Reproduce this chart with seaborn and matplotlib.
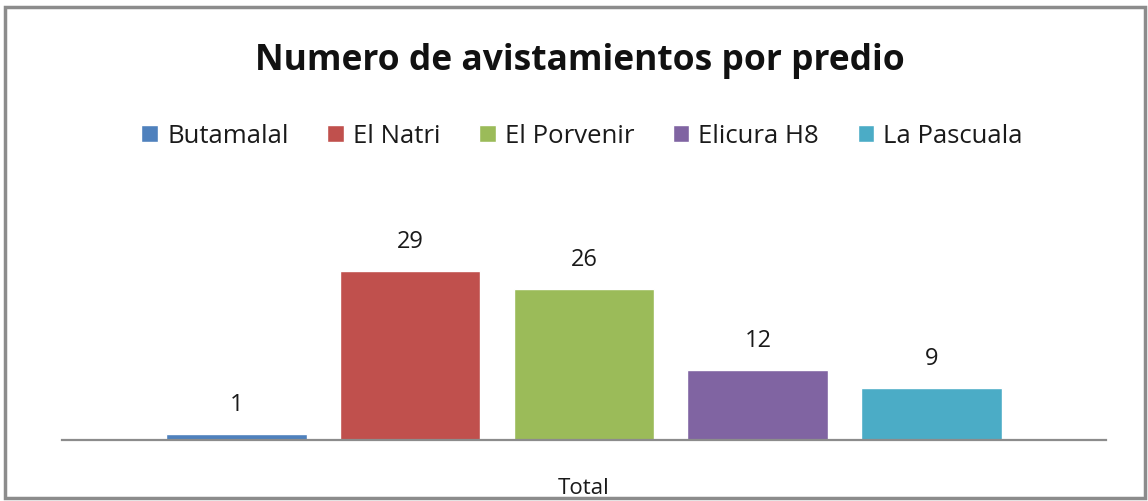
import matplotlib
matplotlib.use("Agg")
import matplotlib.pyplot as plt
import pandas as pd
import seaborn as sns
from matplotlib.patches import Rectangle

# datos del grafico
predios = ["Butamalal", "El Natri", "El Porvenir", "Elicura H8", "La Pascuala"]
avistamientos = [1, 29, 26, 12, 9]
colores = ["#4F81BD", "#C0504D", "#9BBB59", "#8064A2", "#4BACC6"]
categoria = "Total"

df = pd.DataFrame({"categoria": [categoria] * len(predios), "predio": predios, "n": avistamientos})

sns.set_theme(style="white")
plt.rcParams["font.family"] = ["Open Sans", "DejaVu Sans"]

fig = plt.figure(figsize=(11.48, 5.01), dpi=100)
ax = fig.add_axes([0.054, 0.1218, 0.9094, 0.407])

sns.barplot(data=df, x="categoria", y="n", hue="predio", hue_order=predios,
            palette=colores, width=0.833, gap=0.19, saturation=1, ax=ax, legend=True)

for cont in ax.containers:
    ax.bar_label(cont, padding=12, fontsize=17, color="#1a1a1a")

ax.set_ylim(0, 35)
ax.set_xlim(-0.5, 0.5)
ax.set_yticks([])
ax.set_xticks([])
ax.set_ylabel("")
ax.set_xlabel("")
for s in ["top", "left", "right"]:
    ax.spines[s].set_visible(False)
ax.spines["bottom"].set_color("#8c8c8c")
ax.spines["bottom"].set_linewidth(1.6)

fig.text(0.5087, 0.014, categoria, ha="center", va="baseline", fontsize=16, color="#1a1a1a")

fig.text(0.505, 0.861, "Numero de avistamientos por predio", ha="center", va="baseline",
         fontsize=25.5, fontweight="bold", color="#111111")

handles, labels = ax.get_legend_handles_labels()
ax.get_legend().remove()
fig.legend(handles, labels, loc="center", bbox_to_anchor=(0.507, 0.728), ncol=5,
           frameon=False, fontsize=18.5, handlelength=0.65, handleheight=0.65,
           handletextpad=0.35, columnspacing=1.5, labelcolor="#1a1a1a")

# marco del grafico
fig.patches.append(Rectangle((5 / 1148, 3 / 501), 1140 / 1148, 491 / 501, transform=fig.transFigure,
                             fill=False, edgecolor="#8c8c8c", linewidth=2.5))

plt.savefig("out.png", dpi=100)
